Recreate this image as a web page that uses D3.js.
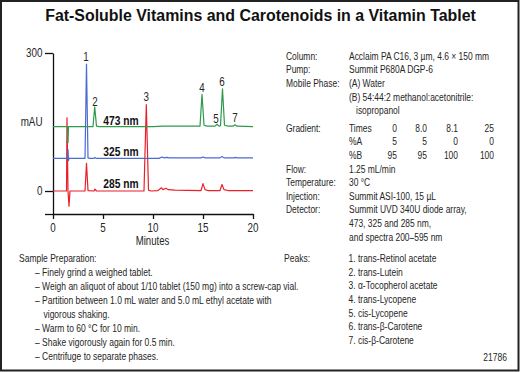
<!DOCTYPE html>
<html>
<head>
<meta charset="utf-8">
<script src="https://cdn.jsdelivr.net/npm/d3@7"></script>
<style>
  body { margin: 0; background: #fff; }
</style>
</head>
<body>
<div id="canvas"></div>
<script>
// chromatogram traces, [minutes, mAU] (offset traces as plotted)
const trace473 = [
  [0, 140], [1.45, 140], [1.5, 105], [1.55, 140], [4.0, 140], [4.17, 183], [4.35, 141],
  [4.6, 140], [10, 140], [11, 141], [14.7, 141], [14.9, 210], [15.1, 143], [15.4, 141],
  [16.2, 141], [16.4, 145], [16.6, 141], [16.75, 142], [16.95, 222], [17.15, 143],
  [17.5, 141], [18.0, 141], [18.2, 144], [18.4, 141], [20, 140]
];
const trace325 = [
  [0, 71], [1.45, 71], [1.5, 90], [1.55, 66], [1.6, 71], [3.2, 71], [3.35, 276], [3.5, 72],
  [3.7, 71], [4.1, 71], [4.2, 73], [4.3, 71], [10.6, 71], [10.9, 74], [11.1, 72], [11.4, 73],
  [11.6, 72], [14.8, 72], [15.0, 74], [15.2, 72], [16.7, 72], [16.9, 75], [17.1, 72],
  [18.1, 72], [18.25, 73], [18.4, 72], [20, 72]
];
const trace285 = [
  [0, 0], [1.35, 0], [1.4, 159], [1.5, 0], [1.6, -33], [1.7, 0], [3.2, 0], [3.35, 60],
  [3.5, 1], [4.1, 0], [4.2, 4], [4.35, 0], [9.1, 0], [9.33, 188], [9.55, 2], [9.8, 0],
  [10.5, 1], [10.85, 7], [11.0, 3], [11.3, 6], [11.5, 3], [12.2, 2], [14.8, 1], [15.0, 16],
  [15.2, 3], [15.5, 1], [16.7, 1], [16.9, 14], [17.1, 3], [17.5, 1], [20, 1]
];
const traceNames = ["473 nm", "325 nm", "285 nm"];
const traceColors = ["#2f9a4c", "#4a6bcf", "#e8202a"];
const traceLabelPos = [[6.8, 153], [6.8, 86], [6.8, 15]];

const peakNums = ["1", "2", "3", "4", "5", "6", "7"];
const peakTimes = [3.3, 4.2, 9.33, 14.9, 16.3, 16.9, 18.2];
const peakLabelMAU = [291, 193, 204, 224, 157, 237, 159];

const xTicks = [0, 5, 10, 15, 20];
const yTicks = [300, 0, -50];

const title = "Fat-Soluble Vitamins and Carotenoids in a Vitamin Tablet";

const condLabels = ["Column:", "Pump:", "Mobile Phase:", "", "", "Gradient:", "", "",
  "Flow:", "Temperature:", "Injection:", "Detector:", "", ""];
const condValues = ["Acclaim PA C16, 3 µm, 4.6 × 150 mm", "Summit P680A DGP-6", "(A) Water",
  "(B) 54:44:2 methanol:acetonitrile:", "isopropanol", null, null, null,
  "1.25 mL/min", "30 °C", "Summit ASI-100, 15 µL", "Summit UVD 340U diode array,",
  "473, 325 and 285 nm,", "and spectra 200–595 nm"];
const gradientRows = [
  ["Times", "0", "8.0", "8.1", "25"],
  ["%A", "5", "5", "0", "0"],
  ["%B", "95", "95", "100", "100"]
];

const prepTitle = "Sample Preparation:";
const prepSteps = [
  "– Finely grind a weighed tablet.",
  "– Weigh an aliquot of about 1/10 tablet (150 mg) into a screw-cap vial.",
  "– Partition between 1.0 mL water and 5.0 mL ethyl acetate with",
  "   vigorous shaking.",
  "– Warm to 60 °C for 10 min.",
  "– Shake vigorously again for 0.5 min.",
  "– Centrifuge to separate phases."
];
const peakNames = ["1. trans-Retinol acetate", "2. trans-Lutein", "3. α-Tocopherol acetate",
  "4. trans-Lycopene", "5. cis-Lycopene", "6. trans-β-Carotene", "7. cis-β-Carotene"];
const figNumber = "21786";

// the original uses a condensed face; squeeze Liberation Sans horizontally
const fam = "'Liberation Sans', Arial, sans-serif";
const ink = "#262626";

const W = 520, H = 372;
const svg = d3.select("#canvas").append("svg").attr("width", W).attr("height", H);

svg.append("rect").attr("x", 1).attr("y", 1).attr("width", W - 2.5).attr("height", H - 2.5)
  .attr("fill", "#fff").attr("stroke", "#222").attr("stroke-width", 2);

const addText = (x, y, str, size, sx, anchor = "start", weight = "normal", fill = ink) =>
  svg.append("text")
    .attr("transform", "translate(" + x + "," + y + ") scale(" + sx + ",1)")
    .attr("dy", "0.35em")
    .attr("text-anchor", anchor)
    .style("font-family", fam)
    .style("font-size", size + "px")
    .style("font-weight", weight)
    .attr("fill", fill)
    .text(str);

addText(260.5, 15, title, 16, 0.995, "middle", "bold", "#111");

// chart
const x = d3.scaleLinear().domain([0, 20]).range([53, 253]);
const y = d3.scaleLinear().domain([-50, 300]).range([214, 53]);

const xAxis = svg.append("g").attr("transform", "translate(0," + y(-50) + ")")
  .call(d3.axisBottom(x).tickValues(xTicks).tickSize(5).tickSizeOuter(0).tickFormat(d3.format("d")));
const yAxis = svg.append("g").attr("transform", "translate(" + x(0) + ",0)")
  .call(d3.axisLeft(y).tickValues(yTicks).tickSize(8).tickSizeOuter(0)
    .tickFormat((d) => (d == -50 ? "" : d)));
[xAxis, yAxis].forEach((g) => {
  g.select(".domain").attr("stroke", "#111").attr("stroke-width", 1.3);
  g.selectAll(".tick line").attr("stroke", "#111").attr("stroke-width", 1.3);
  g.selectAll("text").remove();
});
xTicks.forEach((t) => addText(x(t), 228, t, 12, 0.82, "middle"));
yTicks.filter((t) => t != -50).forEach((t) => addText(42.5, y(t), t, 12, 0.82, "end"));
addText(42.5, y(150), "mAU", 12, 0.82, "end");
addText(x(10) - 0.5, 240.5, "Minutes", 12, 0.8, "middle");

const line = d3.line().x((d) => x(d[0])).y((d) => y(d[1]));
[trace285, trace325, trace473].forEach((tr, i) => {
  svg.append("path")
    .datum(tr)
    .attr("fill", "none")
    .attr("stroke", traceColors[2 - i])
    .attr("stroke-width", 1.2)
    .attr("stroke-linejoin", "round")
    .attr("d", line);
});
traceNames.forEach((n, i) =>
  addText(x(traceLabelPos[i][0]), y(traceLabelPos[i][1]), n, 12.5, 0.82, "middle", "bold", "#111"));
peakNums.forEach((n, i) => addText(x(peakTimes[i]), y(peakLabelMAU[i]), n, 12, 0.82, "middle"));

// conditions block
const sc = 0.735;
const condY = (i) => 55.7 + i * 13.6 + (i >= 5 ? 4 : 0);
condLabels.forEach((l, i) => { if (l) addText(286, condY(i), l, 11.5, sc); });
condValues.forEach((v, i) => { if (v) addText(i == 4 ? 356 : 349, condY(i), v, 11.5, sc); });
const gradX = [397, 427, 458, 494];
gradientRows.forEach((row, r) => {
  addText(349, condY(5 + r), row[0], 11.5, sc);
  row.slice(1).forEach((v, c) => addText(gradX[c], condY(5 + r), v, 11.5, sc, "end"));
});

// sample preparation and peaks
const sb = 0.81;
addText(19, 258.3, prepTitle, 10.5, sb);
prepSteps.forEach((s, i) => {
  const indent = s.startsWith(" ");
  addText(indent ? 43.5 : 35, 272.5 + i * 13.9, s.trim(), 10.5, sb);
});
addText(310, 258.3, "Peaks:", 10.5, sb, "end");
peakNames.forEach((p, i) => addText(348.5, 258.3 + i * 13.68, p, 10.5, sb));
addText(507, 357, figNumber, 10.5, sb, "end");
</script>
</body>
</html>
